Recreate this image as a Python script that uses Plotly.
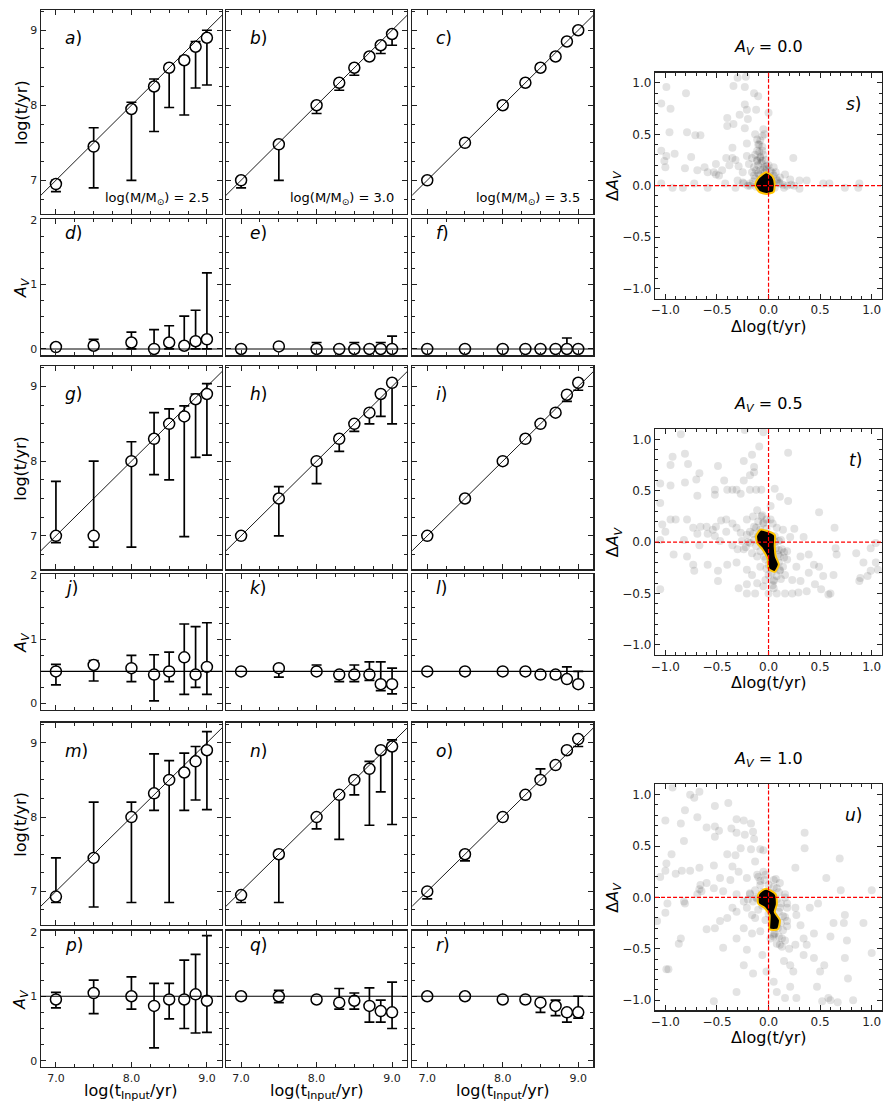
import plotly.graph_objects as go

W, H = 886, 1104

# ---------------- data ----------------
T_IN = [7.0, 7.5, 8.0, 8.3, 8.5, 8.7, 8.85, 9.0]
MASS_LABELS = ["2.5", "3.0", "3.5"]
AV_TRUE = [0.0, 0.5, 1.0]
SCATTER_TITLES = ["0.0", "0.5", "1.0"]

# recovered log(t/yr): value, lower end, upper end of error bar
A_Y = [6.95, 7.45, 7.95, 8.25, 8.50, 8.60, 8.78, 8.90]
A_LO = [6.85, 6.90, 7.00, 7.65, 7.97, 7.87, 8.23, 8.27]
A_HI = [7.00, 7.70, 8.04, 8.35, 8.53, 8.65, 8.85, 9.00]
B_Y = [7.00, 7.48, 8.00, 8.30, 8.50, 8.65, 8.80, 8.95]
B_LO = [6.90, 7.00, 7.89, 8.20, 8.40, 8.63, 8.69, 8.80]
B_HI = [7.00, 7.50, 8.00, 8.30, 8.50, 8.67, 8.83, 8.98]
C_Y = [7.00, 7.50, 8.00, 8.30, 8.50, 8.65, 8.85, 9.00]
C_LO = [7.00, 7.50, 8.00, 8.30, 8.50, 8.65, 8.85, 9.00]
C_HI = [7.00, 7.50, 8.00, 8.30, 8.50, 8.65, 8.85, 9.00]

G_Y = [7.00, 7.00, 8.00, 8.30, 8.50, 8.60, 8.83, 8.90]
G_LO = [6.91, 6.85, 6.85, 7.82, 7.75, 6.99, 8.05, 8.08]
G_HI = [7.73, 8.00, 8.26, 8.65, 8.70, 8.74, 8.90, 9.04]
H_Y = [7.00, 7.50, 8.00, 8.30, 8.50, 8.65, 8.90, 9.05]
H_LO = [7.00, 7.00, 7.70, 8.13, 8.40, 8.50, 8.60, 8.50]
H_HI = [7.00, 7.66, 8.00, 8.30, 8.50, 8.65, 8.90, 9.05]
I_Y = [7.00, 7.50, 8.00, 8.30, 8.50, 8.65, 8.89, 9.05]
I_LO = [7.00, 7.50, 8.00, 8.30, 8.50, 8.65, 8.80, 8.95]
I_HI = [7.00, 7.50, 8.00, 8.30, 8.50, 8.65, 8.89, 9.05]

M_Y = [6.93, 7.45, 8.00, 8.32, 8.50, 8.60, 8.75, 8.90]
M_LO = [6.85, 6.79, 6.85, 8.09, 6.85, 8.09, 8.23, 8.10]
M_HI = [7.45, 8.20, 8.20, 8.85, 8.76, 8.86, 8.95, 9.15]
N_Y = [6.95, 7.50, 8.00, 8.30, 8.50, 8.65, 8.90, 8.95]
N_LO = [6.85, 6.85, 7.84, 7.70, 8.30, 7.89, 8.34, 7.90]
N_HI = [6.95, 7.55, 8.00, 8.30, 8.50, 8.75, 8.90, 9.04]
O_Y = [7.00, 7.50, 8.00, 8.30, 8.50, 8.70, 8.90, 9.05]
O_LO = [6.90, 7.41, 8.00, 8.30, 8.50, 8.70, 8.90, 8.95]
O_HI = [7.00, 7.50, 8.00, 8.30, 8.65, 8.70, 8.90, 9.05]

# recovered A_V
D_Y = [0.03, 0.05, 0.10, 0.00, 0.10, 0.05, 0.12, 0.15]
D_LO = [0.00, 0.00, 0.00, 0.00, 0.00, 0.00, 0.00, 0.00]
D_HI = [0.08, 0.15, 0.26, 0.30, 0.36, 0.51, 0.60, 1.18]
E_Y = [0.00, 0.04, 0.00, 0.00, 0.00, 0.00, 0.00, 0.00]
E_LO = [-0.05, 0.04, -0.05, -0.03, -0.05, 0.00, -0.02, -0.05]
E_HI = [0.00, 0.05, 0.10, 0.00, 0.10, 0.00, 0.10, 0.20]
F_Y = [0.00, 0.00, 0.00, 0.00, 0.00, 0.00, 0.00, 0.00]
F_LO = [-0.03, -0.02, -0.03, -0.02, -0.02, -0.02, -0.03, -0.02]
F_HI = [0.00, 0.00, 0.00, 0.00, 0.00, 0.00, 0.17, 0.00]

J_Y = [0.50, 0.60, 0.55, 0.45, 0.50, 0.72, 0.45, 0.57]
J_LO = [0.29, 0.35, 0.34, 0.04, 0.34, 0.14, 0.25, 0.14]
J_HI = [0.61, 0.67, 0.75, 0.76, 0.80, 1.24, 1.20, 1.26]
K_Y = [0.50, 0.55, 0.50, 0.45, 0.45, 0.45, 0.30, 0.30]
K_LO = [0.50, 0.41, 0.50, 0.34, 0.34, 0.36, 0.20, 0.15]
K_HI = [0.50, 0.55, 0.60, 0.45, 0.60, 0.65, 0.65, 0.55]
L_Y = [0.50, 0.50, 0.50, 0.50, 0.45, 0.45, 0.38, 0.30]
L_LO = [0.50, 0.50, 0.50, 0.50, 0.45, 0.40, 0.33, 0.30]
L_HI = [0.50, 0.50, 0.50, 0.50, 0.45, 0.45, 0.57, 0.50]

P_Y = [0.95, 1.05, 1.00, 0.85, 0.95, 0.95, 1.03, 0.93]
P_LO = [0.82, 0.73, 0.80, 0.20, 0.65, 0.50, 0.43, 0.44]
P_HI = [1.06, 1.25, 1.30, 1.20, 1.20, 1.56, 1.65, 1.94]
Q_Y = [1.00, 1.00, 0.95, 0.90, 0.93, 0.85, 0.77, 0.75]
Q_LO = [1.00, 0.90, 0.95, 0.80, 0.80, 0.60, 0.60, 0.50]
Q_HI = [1.00, 1.09, 0.95, 1.12, 1.05, 1.13, 0.94, 1.22]
R_Y = [1.00, 1.00, 0.95, 0.95, 0.90, 0.85, 0.75, 0.75]
R_LO = [1.00, 1.00, 0.95, 0.95, 0.75, 0.70, 0.60, 0.66]
R_HI = [1.00, 1.00, 0.95, 0.95, 0.90, 0.94, 0.75, 1.00]

# scatter clouds (delta log t, delta A_V)
S_POINTS = [
    (-0.99, 0.96), (-1.04, 0.80), (-0.80, 0.90), (-0.95, 0.75), (-0.96, 0.52), (-0.79, 0.52),
    (-0.71, 0.49), (-0.66, 0.49), (-1.04, 0.34), (-0.91, 0.31), (-0.99, 0.29), (-1.01, 0.24),
    (-0.75, 0.28), (-1.00, 0.18), (-0.81, 0.17), (-0.69, 0.15), (-0.59, 0.13), (-0.62, 0.18),
    (-0.51, 0.21), (-0.51, 0.11), (-0.48, 0.10), (-0.53, 0.13), (-0.45, 0.15), (-0.38, 0.20),
    (-0.41, 0.27), (-0.35, 0.37), (-0.34, 0.97), (-0.23, 0.96), (-0.30, 1.05), (-0.22, 1.06),
    (-0.40, 0.66), (-0.40, 0.58), (-0.34, 0.60), (-0.28, 0.69), (-0.23, 0.79), (-0.21, 0.74),
    (-0.20, 0.65), (-0.23, 0.56), (-0.14, 0.90), (-0.10, 0.87), (-0.12, 0.74), (0.00, 0.71),
    (-0.05, 0.55), (-0.13, 0.50), (-0.21, 0.41), (-0.11, 0.45), (-0.09, 0.40), (-0.11, 0.34),
    (-0.06, 0.34), (-0.04, 0.50), (-0.35, 0.27), (-0.32, 0.25), (-0.29, 0.19), (-0.25, 0.13),
    (-0.21, 0.29), (-0.16, 0.27), (-0.19, 0.21), (-0.14, 0.18), (-0.11, 0.24), (-0.08, 0.27),
    (-0.06, 0.24), (0.05, 0.18), (0.16, 0.11), (0.21, 0.06), (0.24, 0.27), (0.30, 0.05),
    (0.37, 0.05), (0.53, 0.02), (0.59, 0.02), (0.74, -0.02), (0.87, -0.02), (0.88, 0.02),
    (0.15, -0.02), (0.30, -0.03), (-0.59, -0.02), (-0.83, -0.02), (-0.93, -0.02), (-1.04, 0.02),
    (-0.72, 0.02), (-0.32, -0.02), (-0.24, 0.02), (-0.42, 0.02), (-0.18, 0.00), (0.11, 0.02),
    (0.08, 0.05),
    (-0.08, 0.44), (-0.10, 0.40), (-0.06, 0.38), (-0.09, 0.33), (-0.05, 0.30), (-0.08, 0.28),
    (-0.03, 0.25), (-0.07, 0.22), (-0.10, 0.20), (-0.04, 0.18), (-0.12, 0.15), (-0.08, 0.15),
    (-0.02, 0.16), (0.02, 0.14), (-0.14, 0.10), (-0.10, 0.12), (0.05, 0.10), (0.08, 0.06),
    (-0.15, 0.04), (0.10, 0.03), (0.14, 0.01), (0.18, 0.00), (-0.18, 0.02), (-0.20, 0.00),
    (0.06, -0.02), (0.00, -0.03), (-0.06, -0.02), (-0.12, -0.01), (0.22, 0.01), (-0.25, 0.03),
    (-0.30, 0.05), (0.25, 0.00), (-0.02, 0.08), (0.03, 0.04), (-0.07, 0.06), (-0.13, 0.07),
    (0.11, 0.08), (-0.04, 0.12), (-0.16, 0.13), (0.00, 0.20), (-0.11, 0.25), (-0.13, 0.30),
    (-0.06, 0.48), (-0.05, 0.16), (-0.09, 0.10), (0.04, 0.12), (-0.02, 0.19), (0.07, 0.13),
]
T_POINTS = [
    (-0.85, 1.05), (-0.93, 0.83), (-0.81, 0.86), (-0.95, 0.75), (-0.78, 0.76), (-0.49, 0.74),
    (-0.67, 0.67), (-1.05, 0.57), (-0.95, 0.55), (-0.81, 0.58), (-0.70, 0.61), (-0.52, 0.51),
    (-0.43, 0.60), (-0.52, 0.46), (-0.40, 0.51), (-0.35, 0.51), (-0.31, 0.51), (-0.69, 0.45),
    (-0.23, 1.09), (-0.05, 1.07), (-0.09, 0.93), (-0.16, 0.85), (-0.24, 0.79), (-0.14, 0.73),
    (-0.14, 0.68), (-0.18, 0.65), (-0.24, 0.60), (-0.27, 0.47), (-0.18, 0.51), (-0.12, 0.51),
    (-0.07, 0.51), (0.06, 0.52), (0.11, 0.44), (0.19, 0.40), (0.02, 0.35), (0.19, 0.87),
    (0.49, 0.29), (0.64, 0.14), (0.25, 0.13), (0.34, 0.05), (0.14, 0.12), (0.21, 0.05),
    (0.31, -0.14), (0.39, -0.12), (0.49, -0.24), (0.65, -0.06), (0.66, -0.12), (0.92, -0.20),
    (0.99, -0.06), (1.04, -0.01), (1.04, -0.20), (1.06, -0.27), (0.85, -0.11), (0.99, -0.28),
    (0.89, -0.35), (0.88, -0.38), (0.96, -0.33), (0.53, -0.33), (0.63, -0.32), (0.39, -0.30),
    (0.31, -0.38), (0.23, -0.37), (0.16, -0.32), (0.11, -0.27), (0.18, -0.17), (0.11, -0.14),
    (0.18, -0.09), (0.27, -0.24), (0.44, -0.22), (0.37, -0.48), (0.45, -0.41), (0.51, -0.46),
    (0.60, -0.50), (0.58, -0.51), (0.29, -0.49), (0.23, -0.50), (0.16, -0.50), (0.08, -0.50),
    (0.05, -0.45), (0.00, -0.50), (-0.05, -0.43), (-0.13, -0.50), (-0.21, -0.50), (-0.29, -0.45),
    (-0.21, -0.41), (-0.11, -0.40), (-0.03, -0.37), (-0.16, -0.32), (-0.21, -0.27), (-0.31, -0.20),
    (-0.40, -0.22), (-0.49, -0.28), (-0.49, -0.38), (-0.59, -0.22), (-0.72, -0.28), (-1.05, -0.46),
    (-0.67, -0.03), (-0.59, 0.08), (-0.69, 0.08), (-0.73, 0.14), (-0.66, 0.15), (-0.60, 0.15),
    (-0.54, 0.12), (-0.51, 0.15), (-0.52, 0.06), (-0.46, 0.21), (-0.41, 0.22), (-0.35, 0.18),
    (-0.31, 0.14), (-0.41, 0.10), (-0.47, 0.01), (-0.35, -0.03), (-0.30, -0.07), (-0.26, 0.01),
    (-0.24, -0.07), (-0.18, -0.01), (-0.21, 0.07), (-0.27, 0.09), (-0.21, 0.22), (-0.15, 0.25),
    (-0.14, 0.15), (-0.11, 0.31), (-0.06, 0.26), (-0.05, 0.19), (-0.02, 0.22), (0.04, 0.18),
    (0.08, 0.14), (0.06, 0.06), (0.10, 0.01), (0.13, -0.07), (-0.03, -0.17), (-0.11, -0.14),
    (-0.16, -0.11), (-0.08, -0.24), (0.00, -0.32), (0.05, -0.37), (-0.95, 0.22), (-1.03, 0.17),
    (-1.00, 0.10), (-1.05, 0.38), (-0.90, 0.22), (-0.79, 0.22), (-1.05, 0.02), (-0.82, 0.02),
    (-0.73, -0.22), (-0.92, -0.12), (-0.79, -0.14),
    (-0.10, 0.20), (-0.05, 0.18), (-0.12, 0.14), (-0.08, 0.12), (-0.02, 0.13), (-0.15, 0.08),
    (-0.10, 0.06), (0.00, 0.07), (0.04, 0.04), (-0.14, 0.02), (-0.06, 0.00), (0.06, 0.00),
    (-0.12, -0.04), (-0.03, -0.05), (0.07, -0.06), (-0.08, -0.09), (0.02, -0.10), (0.09, -0.12),
    (-0.04, -0.14), (0.05, -0.18), (0.10, -0.20), (0.00, -0.22), (0.06, -0.26), (0.11, -0.28),
    (0.03, -0.30), (0.08, -0.33), (0.12, -0.36), (0.05, -0.38), (-0.02, -0.26), (0.14, -0.24),
    (0.15, -0.15), (-0.18, 0.10), (-0.20, 0.00), (-0.22, -0.05), (-0.07, 0.25), (0.02, 0.22),
    (0.12, 0.02), (0.10, -0.08), (0.15, -0.10), (0.04, -0.42),
]
U_POINTS = [
    (-0.93, 1.07), (-0.76, 1.00), (-0.67, 1.03), (-0.72, 0.97), (-0.52, 0.89), (-0.39, 0.92),
    (-0.81, 0.85), (-1.00, 0.75), (-0.85, 0.72), (-0.69, 0.78), (-0.60, 0.68), (-0.52, 0.69),
    (-0.48, 0.65), (-0.52, 0.59), (-0.31, 0.76), (-0.24, 0.75), (-0.17, 0.72), (-0.15, 0.64),
    (-0.23, 0.61), (-0.31, 0.63), (-0.36, 0.67), (-0.14, 0.57), (-0.82, 0.55), (-0.27, 0.48),
    (-0.17, 0.47), (-0.08, 0.47), (-0.05, 0.46), (-0.32, 0.41), (-0.40, 0.42), (-0.35, 0.30),
    (-0.53, 0.31), (-0.67, 0.29), (-0.76, 0.26), (-0.84, 0.26), (-0.90, 0.23), (-1.00, 0.26),
    (-1.05, 0.20), (-0.94, 0.42), (-0.99, 0.33), (-0.66, 0.12), (-0.67, 0.08), (-0.65, 0.06),
    (-0.69, 0.03), (-0.60, 0.14), (-0.53, 0.09), (-0.44, 0.06), (-0.47, 0.19), (-0.37, 0.17),
    (-0.29, 0.25), (-0.21, 0.19), (-0.13, 0.35), (-0.11, 0.22), (-0.08, 0.16), (-0.03, 0.22),
    (0.05, 0.17), (0.11, 0.14), (0.08, 0.09), (0.16, 0.03), (0.18, -0.06), (0.05, -0.36),
    (0.11, -0.46), (0.18, -0.23), (0.26, -0.10), (0.26, 0.29), (0.35, 0.48), (0.35, 0.63),
    (0.27, -0.17), (0.31, -0.27), (0.34, -0.40), (0.26, -0.46), (0.37, -0.46), (0.44, -0.35),
    (0.48, -0.06), (0.40, -0.10), (0.56, 0.19), (0.69, 0.38), (0.70, 0.07), (0.74, -0.17),
    (0.73, -0.25), (0.63, -0.25), (0.60, -0.38), (0.76, -0.42), (0.74, -0.59), (0.77, -0.79),
    (0.92, -0.25), (1.00, 0.07), (1.00, -0.54), (0.54, -0.66), (0.50, -0.72), (0.47, -0.87),
    (0.58, -0.98), (0.60, -1.00), (0.52, -1.01), (0.67, -1.02), (0.82, -1.00), (0.27, -0.98),
    (0.21, -0.87), (0.16, -0.98), (0.05, -0.82), (-0.02, -0.72), (0.08, -0.92), (0.15, -0.62),
    (0.21, -0.66), (0.24, -0.72), (0.34, -0.56), (0.44, -0.59), (-0.06, -0.56), (-0.15, -0.74),
    (-0.24, -0.66), (-0.31, -0.92), (-0.21, -0.51), (-0.31, -0.40), (-0.24, -0.30), (-0.16, -0.35),
    (-0.08, -0.33), (-0.53, -1.01), (-0.44, -0.49), (-0.52, -0.30), (-0.60, -0.31), (-0.47, -0.23),
    (-0.40, -0.20), (-0.35, -0.10), (-0.31, -0.14), (-0.21, -0.10), (-0.24, -0.04), (-0.16, -0.17),
    (-0.13, -0.20), (-0.11, -0.01), (-0.18, 0.03), (-0.31, 0.03), (-0.85, -0.40), (-0.87, -0.45),
    (-0.97, -0.70), (-0.99, -0.70), (-1.00, -0.15), (-1.08, -0.23), (-0.98, -0.06), (-0.82, -0.04),
    (-0.81, -0.06), (0.05, -0.38), (0.13, -0.40), (0.08, -0.27), (0.16, -0.19), (0.11, -0.10),
    (0.02, -0.14),
    (-0.10, 0.20), (-0.04, 0.17), (-0.08, 0.12), (0.00, 0.12), (0.05, 0.10), (-0.13, 0.07),
    (-0.06, 0.05), (0.03, 0.04), (0.10, 0.05), (-0.12, 0.00), (0.08, -0.02), (-0.15, -0.04),
    (0.00, -0.04), (0.12, -0.06), (-0.06, -0.08), (0.04, -0.11), (0.10, -0.14), (0.00, -0.16),
    (0.14, -0.18), (0.05, -0.20), (0.12, -0.25), (0.03, -0.27), (0.09, -0.30), (0.14, -0.32),
    (0.06, -0.35), (0.10, -0.38), (0.02, -0.40), (0.16, -0.42), (-0.03, -0.22), (0.18, -0.28),
    (-0.18, 0.04), (-0.20, -0.02), (-0.10, -0.12), (-0.05, 0.25), (0.07, 0.18), (0.16, 0.00),
    (0.18, -0.10), (0.08, -0.45), (0.20, -0.50), (0.13, -0.48),
]
# density contours (enclosing the densest region)
S_CONTOUR = [(-0.02, 0.13), (0.04, 0.09), (0.06, 0.02), (0.05, -0.06), (-0.02, -0.08),
             (-0.09, -0.06), (-0.13, 0.00), (-0.11, 0.06), (-0.06, 0.11)]
T_CONTOUR = [(-0.08, 0.12), (-0.02, 0.11), (0.06, 0.07), (0.06, -0.04), (0.07, -0.14),
             (0.10, -0.22), (0.06, -0.29), (0.00, -0.26), (-0.01, -0.16), (-0.06, -0.07),
             (-0.11, -0.01), (-0.12, 0.06)]
U_CONTOUR = [(-0.02, 0.085), (0.07, 0.03), (0.08, -0.07), (0.06, -0.14), (0.11, -0.22),
             (0.09, -0.31), (0.01, -0.31), (0.01, -0.22), (0.01, -0.17), (-0.04, -0.10),
             (-0.10, -0.06), (-0.10, 0.03), (-0.06, 0.07)]

# ---------------- layout geometry (pixels) ----------------
COLS_PX = [(37, 219), (223, 405), (410, 592)]
AGE_ROWS_PX = [(5, 210), (363, 567), (721, 924)]
AV_ROWS_PX = [(215, 352), (572, 708), (930, 1067)]
SC_X_PX = (654, 882)
SC_ROWS_PX = [(68, 295), (426, 653), (783, 1010)]

X_RANGE = [6.8, 9.2]
AGE_RANGE = [6.55, 9.27]
AV_RANGE = [-0.1, 2.015]
SC_RANGE = [-1.1, 1.1]

FONT = "DejaVu Sans"
INK = "#222222"

AGE_PANELS = [(A_Y, A_LO, A_HI), (B_Y, B_LO, B_HI), (C_Y, C_LO, C_HI),
              (G_Y, G_LO, G_HI), (H_Y, H_LO, H_HI), (I_Y, I_LO, I_HI),
              (M_Y, M_LO, M_HI), (N_Y, N_LO, N_HI), (O_Y, O_LO, O_HI)]
AV_PANELS = [(D_Y, D_LO, D_HI), (E_Y, E_LO, E_HI), (F_Y, F_LO, F_HI),
             (J_Y, J_LO, J_HI), (K_Y, K_LO, K_HI), (L_Y, L_LO, L_HI),
             (P_Y, P_LO, P_HI), (Q_Y, Q_LO, Q_HI), (R_Y, R_LO, R_HI)]
LETTERS = "abcdefghijklmnopqrstu"

fig = go.Figure()
layout = {}
annotations = []
shapes = []
counter = [0]

base_axis = dict(showline=True, linecolor=INK, linewidth=1.3, mirror="allticks",
                 ticks="inside", ticklen=5, tickwidth=1, tickcolor=INK,
                 showgrid=False, zeroline=False,
                 tickfont=dict(family=FONT, size=11, color=INK))


def new_axes(xpx, ypx, xcfg, ycfg):
    counter[0] += 1
    n = counter[0]
    xa = "xaxis" if n == 1 else f"xaxis{n}"
    ya = "yaxis" if n == 1 else f"yaxis{n}"
    xr = "x" if n == 1 else f"x{n}"
    yr = "y" if n == 1 else f"y{n}"
    layout[xa] = {**base_axis, **xcfg, "domain": [xpx[0] / W, xpx[1] / W], "anchor": yr}
    layout[ya] = {**base_axis, **ycfg, "domain": [1 - ypx[1] / H, 1 - ypx[0] / H], "anchor": xr}
    return xr, yr


def ann(text, xpx, ypx, size, xanchor="center", yanchor="middle", angle=0):
    annotations.append(dict(text=text, x=xpx / W, y=1 - ypx / H, xref="paper", yref="paper",
                            showarrow=False, xanchor=xanchor, yanchor=yanchor, textangle=angle,
                            font=dict(family=FONT, size=size, color="black")))


def err_trace(xr, yr, yv, lo, hi):
    plus = [h - v for v, h in zip(yv, hi)]
    minus = [v - l for v, l in zip(yv, lo)]
    fig.add_trace(go.Scatter(
        x=T_IN, y=yv, xaxis=xr, yaxis=yr, mode="markers",
        marker=dict(symbol="circle", size=11, color="white", line=dict(color="black", width=1.5)),
        error_y=dict(type="data", symmetric=False, array=plus, arrayminus=minus,
                     color="black", thickness=1.7, width=5),
        showlegend=False, hoverinfo="skip"))


for g in range(3):
    for c in range(3):
        idx = g * 3 + c
        bottom = (g == 2)
        left = (c == 0)
        xcfg = dict(range=X_RANGE, tickmode="linear", tick0=7, dtick=1, tickformat=".1f",
                    showticklabels=bottom,
                    minor=dict(ticks="inside", ticklen=3, tickcolor=INK, tick0=7, dtick=0.25))
        # age panel
        ycfg = dict(range=AGE_RANGE, tickmode="linear", tick0=7, dtick=1, showticklabels=left,
                    minor=dict(ticks="inside", ticklen=3, tickcolor=INK, tick0=7, dtick=0.25))
        xr, yr = new_axes(COLS_PX[c], AGE_ROWS_PX[g], {**xcfg, "showticklabels": False}, ycfg)
        yv, lo, hi = AGE_PANELS[idx]
        err_trace(xr, yr, yv, lo, hi)
        fig.add_trace(go.Scatter(x=X_RANGE, y=X_RANGE, xaxis=xr, yaxis=yr, mode="lines",
                                 line=dict(color="black", width=0.9),
                                 showlegend=False, hoverinfo="skip"))
        ann(f"<i>{LETTERS[g * 6 + c]}</i>)", COLS_PX[c][0] + 22, AGE_ROWS_PX[g][0] + 28, 17,
            xanchor="left")
        if g == 0:
            ann(f"log(M/M<sub>⊙</sub>) = {MASS_LABELS[c]}", COLS_PX[c][1] - 11,
                AGE_ROWS_PX[g][1] - 16, 13, xanchor="right")

        # A_V panel
        ycfg = dict(range=AV_RANGE, tickmode="linear", tick0=0, dtick=1, showticklabels=left,
                    minor=dict(ticks="inside", ticklen=3, tickcolor=INK, tick0=0, dtick=0.25))
        xr, yr = new_axes(COLS_PX[c], AV_ROWS_PX[g], xcfg, ycfg)
        yv, lo, hi = AV_PANELS[idx]
        err_trace(xr, yr, yv, lo, hi)
        shapes.append(dict(type="line", xref=f"{xr} domain", yref=yr, x0=0, x1=1,
                           y0=AV_TRUE[g], y1=AV_TRUE[g], layer="above",
                           line=dict(color="black", width=1.1)))
        ann(f"<i>{LETTERS[g * 6 + 3 + c]}</i>)", COLS_PX[c][0] + 22, AV_ROWS_PX[g][0] + 14, 17,
            xanchor="left")

    # row axis titles
    ann("log(t/yr)", 17, (AGE_ROWS_PX[g][0] + AGE_ROWS_PX[g][1]) / 2, 16, angle=-90)
    ann("<i>A<sub>V</sub></i>", 17, (AV_ROWS_PX[g][0] + AV_ROWS_PX[g][1]) / 2, 16, angle=-90)

for c in range(3):
    ann("log(t<sub>Input</sub>/yr)", (COLS_PX[c][0] + COLS_PX[c][1]) / 2, 1079, 16,
        yanchor="top")

# scatter panels
SC_POINTS = [S_POINTS, T_POINTS, U_POINTS]
SC_CONTOURS = [S_CONTOUR, T_CONTOUR, U_CONTOUR]
for k in range(3):
    sc = dict(range=SC_RANGE, tickmode="linear", tick0=0, dtick=0.5, tickformat=".1f",
              tickfont=dict(family=FONT, size=12, color=INK),
              minor=dict(ticks="inside", ticklen=3, tickcolor=INK, tick0=0, dtick=0.1))
    xr, yr = new_axes(SC_X_PX, SC_ROWS_PX[k], sc, sc)
    pts = SC_POINTS[k]
    fig.add_trace(go.Scatter(x=[p[0] for p in pts], y=[p[1] for p in pts], xaxis=xr, yaxis=yr,
                             mode="markers",
                             marker=dict(size=8, color="rgba(0,0,0,0.11)", line=dict(width=0)),
                             showlegend=False, hoverinfo="skip"))
    cont = SC_CONTOURS[k] + [SC_CONTOURS[k][0]]
    fig.add_trace(go.Scatter(x=[p[0] for p in cont], y=[p[1] for p in cont], xaxis=xr, yaxis=yr,
                             mode="lines", fill="toself", fillcolor="black",
                             line=dict(color="#FFC400", width=2, shape="spline", smoothing=0.6),
                             showlegend=False, hoverinfo="skip"))
    shapes.append(dict(type="line", xref=xr, yref=f"{yr} domain", x0=0, x1=0, y0=0, y1=1,
                       layer="above", line=dict(color="red", width=1.2, dash="4px,2px")))
    shapes.append(dict(type="line", xref=f"{xr} domain", yref=yr, x0=0, x1=1, y0=0, y1=0,
                       layer="above", line=dict(color="red", width=1.2, dash="4px,2px")))
    top, bot = SC_ROWS_PX[k]
    ann(f"<i>A<sub>V</sub></i> = {SCATTER_TITLES[k]}", (SC_X_PX[0] + SC_X_PX[1]) / 2, top - 25, 16)
    ann(f"<i>{LETTERS[18 + k]}</i>)", SC_X_PX[1] - 18, top + 31, 17, xanchor="right")
    ann("Δlog(t/yr)", (SC_X_PX[0] + SC_X_PX[1]) / 2, bot + 16, 16, yanchor="top")
    ann("Δ<i>A<sub>V</sub></i>", 612, (top + bot) / 2, 16, angle=-90)

fig.update_layout(**layout)
fig.update_layout(width=W, height=H, margin=dict(l=0, r=0, t=0, b=0),
                  paper_bgcolor="white", plot_bgcolor="white",
                  annotations=annotations, shapes=shapes, showlegend=False,
                  font=dict(family=FONT, color=INK))
fig.write_html("out.html", config={"displayModeBar": False, "staticPlot": True},
               post_script="document.body.style.margin='0';document.body.style.overflow='hidden';")
